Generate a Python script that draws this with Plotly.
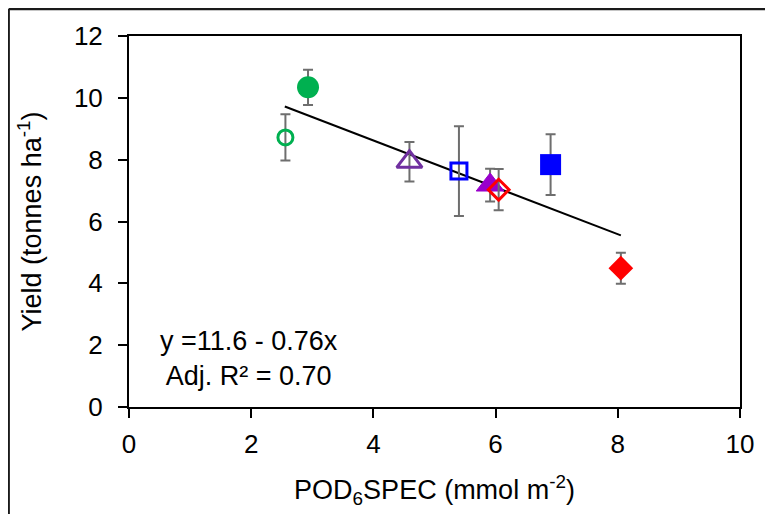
"""
POD6SPEC と収量の散布図（誤差棒・回帰直線付き）
"""
import plotly.graph_objects as go

# 各処理区の値
pod6spec = [2.56, 2.93, 4.59, 5.40, 5.91, 6.05, 6.90, 8.05]
yield_t = [8.72, 10.34, 7.93, 7.63, 7.18, 7.03, 7.84, 4.49]
yield_err = [0.75, 0.57, 0.64, 1.45, 0.53, 0.67, 0.98, 0.50]

# 回帰直線の両端
fit_x = [2.55, 8.05]
fit_y = [9.72, 5.55]

x_ticks = [0, 2, 4, 6, 8, 10]
y_ticks = [0, 2, 4, 6, 8, 10, 12]

# マーカーの見た目（点の順番に対応）: 記号, 色, サイズ, 線幅
_STYLES = [
    ("circle-open", "#00B050", 15, 3),
    ("circle", "#00B050", 22, 0),
    ("triangle-up-open", "#7030A0", 22, 3),
    ("square-open", "#0000FF", 16, 3),
    ("triangle-up", "#9900CC", 24, 1),
    ("diamond-open", "#FF0000", 16, 3),
    ("square", "#0000FF", 21, 0),
    ("diamond", "#FF0000", 19, 0),
]

FONT = "Liberation Sans, Arial, sans-serif"
FS_TICK = 26
FS_TEXT = 27

fig = go.Figure()

fig.add_trace(go.Scatter(
    x=fit_x, y=fit_y, mode="lines",
    line=dict(color="black", width=2),
    hoverinfo="skip",
))

for xv, yv, ev, (sym, col, size, lw) in zip(pod6spec, yield_t, yield_err, _STYLES):
    fig.add_trace(go.Scatter(
        x=[xv], y=[yv], mode="markers",
        marker=dict(symbol=sym, color=col, size=size,
                    line=dict(color=col, width=lw)),
        error_y=dict(type="data", array=[ev], visible=True,
                     color="#6E6E6E", thickness=2, width=5),
    ))

fig.add_annotation(
    x=1.96, y=1.56, xref="x", yref="y",
    text="y =11.6 - 0.76x<br>Adj. R² = 0.70",
    showarrow=False, align="center",
    font=dict(family=FONT, size=FS_TEXT, color="black"),
)

# 外枠（左・上）
fig.add_shape(type="line", xref="paper", yref="paper",
              x0=-0.197, y0=1.073, x1=1.2, y1=1.073,
              line=dict(color="#1a1a1a", width=2.5))
fig.add_shape(type="line", xref="paper", yref="paper",
              x0=-0.197, y0=1.073, x1=-0.197, y1=-0.4,
              line=dict(color="#1a1a1a", width=2.5))

axis_common = dict(
    showgrid=False, zeroline=False,
    showline=True, linecolor="black", linewidth=2, mirror=True,
    ticks="outside", tickcolor="black", tickwidth=2, ticklen=9,
    tickfont=dict(family=FONT, size=FS_TICK, color="black"),
)

fig.update_layout(
    xaxis=dict(
        range=[0, 10], tickvals=x_ticks,
        title=dict(text="POD<sub>6</sub>SPEC (mmol m<sup>-2</sup>)",
                   font=dict(family=FONT, size=FS_TEXT, color="black"), standoff=22),
        ticklabelstandoff=4,
        **axis_common,
    ),
    yaxis=dict(
        range=[0, 12], tickvals=y_ticks,
        title=dict(text="Yield (tonnes ha<sup>-1</sup>)",
                   font=dict(family=FONT, size=FS_TEXT, color="black"), standoff=24),
        ticklabelstandoff=10,
        **axis_common,
    ),
    showlegend=False,
    plot_bgcolor="white",
    paper_bgcolor="white",
    margin=dict(l=121, r=33, t=28, b=107),
    width=765, height=506,
)

fig.write_html("out.html")
